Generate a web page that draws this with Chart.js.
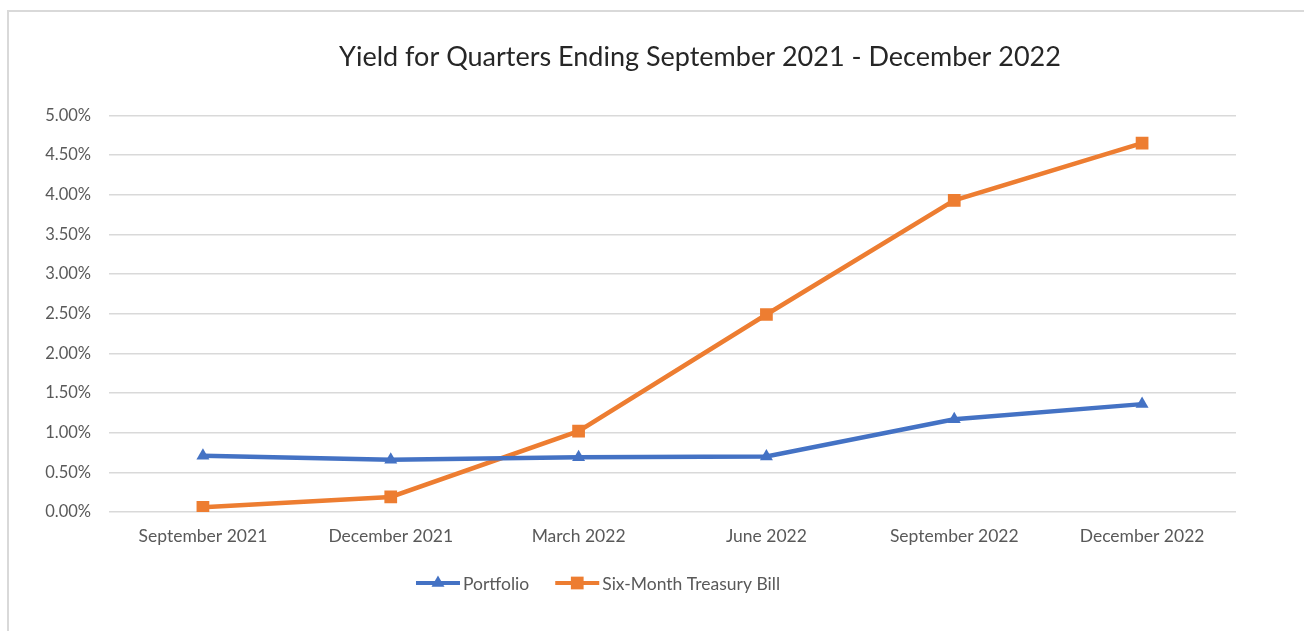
<!DOCTYPE html>
<html>
<head>
<meta charset="utf-8">
<script src="https://cdn.jsdelivr.net/npm/chart.js@4.4.0/dist/chart.umd.min.js"></script>
<style>
  html, body { margin: 0; padding: 0; background: #fff; overflow: hidden; }
  #wrap { position: relative; width: 1304px; height: 631px; }
  #frame { position: absolute; left: 7px; top: 10px; width: 1310px; height: 640px; border: 2px solid #d9d9d9; box-sizing: border-box; }
  canvas { position: absolute; left: 0; top: 0; }
</style>
</head>
<body>
<div id="wrap">
  <div id="frame"></div>
  <canvas id="yieldChart" width="1304" height="631"></canvas>
</div>
<script>
const quarters = ["September 2021", "December 2021", "March 2022", "June 2022", "September 2022", "December 2022"];
const portfolio = [0.71, 0.66, 0.69, 0.70, 1.17, 1.36];
const treasuryBill = [0.06, 0.19, 1.02, 2.49, 3.93, 4.65];

const BLUE = "#4472c4", ORANGE = "#ed7d31";
const FONT = "Lato, 'Open Sans', sans-serif";
const TEXT = "#595959";

// legend drawn by hand so it can carry the line + marker like the original
const lineLegend = {
  id: "lineLegend",
  afterDraw(chart) {
    const ctx = chart.ctx;
    const y = 583, lineW = 44, gap = 3, itemGap = 26;
    ctx.save();
    ctx.font = "17.5px " + FONT;
    const items = chart.data.datasets.map(ds => ({ ds, w: lineW + gap + ctx.measureText(ds.label).width }));
    const total = items.reduce((s, it) => s + it.w, 0) + itemGap * (items.length - 1);
    let x = 598 - total / 2;
    items.forEach(({ ds, w }) => {
      ctx.strokeStyle = ds.borderColor;
      ctx.lineWidth = 4;
      ctx.beginPath();
      ctx.moveTo(x, y);
      ctx.lineTo(x + lineW, y);
      ctx.stroke();
      ctx.fillStyle = ds.borderColor;
      Chart.helpers.drawPoint(ctx, { pointStyle: ds.pointStyle, radius: ds.pointRadius, rotation: 0, borderWidth: 0 }, x + lineW / 2, y);
      ctx.fillStyle = TEXT;
      ctx.textBaseline = "middle";
      ctx.textAlign = "left";
      ctx.fillText(ds.label, x + lineW + gap, y + 1);
      x += w + itemGap;
    });
    ctx.restore();
  }
};

// shift the title so it sits where the original put it
const titleShift = {
  id: "titleShift",
  afterLayout(chart) {
    if (chart.titleBlock) chart.titleBlock.left = 164;
  }
};

new Chart(document.getElementById("yieldChart"), {
  type: "line",
  data: {
    labels: quarters,
    datasets: [{
      label: "Portfolio",
      data: portfolio,
      borderColor: BLUE,
      backgroundColor: BLUE,
      borderWidth: 4.5,
      pointStyle: "triangle",
      pointRadius: 7.5,
      pointBorderWidth: 0,
      tension: 0
    }, {
      label: "Six-Month Treasury Bill",
      data: treasuryBill,
      borderColor: ORANGE,
      backgroundColor: ORANGE,
      borderWidth: 4.5,
      pointStyle: "rect",
      pointRadius: 9,
      pointBorderWidth: 0,
      tension: 0
    }]
  },
  options: {
    responsive: false,
    animation: false,
    layout: { padding: { top: 10, right: 68, bottom: 79, left: 0 } },
    plugins: {
      legend: { display: false },
      tooltip: { enabled: false },
      title: {
        display: true,
        text: "Yield for Quarters Ending September 2021 - December 2022",
        color: "#262626",
        font: { family: FONT, size: 27, weight: "normal" },
        padding: { top: 31, bottom: 42 }
      }
    },
    scales: {
      x: {
        offset: true,
        grid: { display: false },
        border: { display: false },
        ticks: { color: TEXT, font: { family: FONT, size: 17.5 }, padding: 6, maxRotation: 0 },
        afterFit: s => { s.height = 40; }
      },
      y: {
        min: 0,
        max: 5,
        grid: { color: "#d9d9d9", lineWidth: 1.5, drawTicks: false },
        border: { display: false },
        ticks: {
          stepSize: 0.5,
          color: TEXT,
          font: { family: FONT, size: 16.5 },
          padding: 18,
          callback: v => v.toFixed(2) + "%"
        },
        afterFit: s => { s.width = 109; }
      }
    }
  },
  plugins: [lineLegend, titleShift]
});
</script>
</body>
</html>
